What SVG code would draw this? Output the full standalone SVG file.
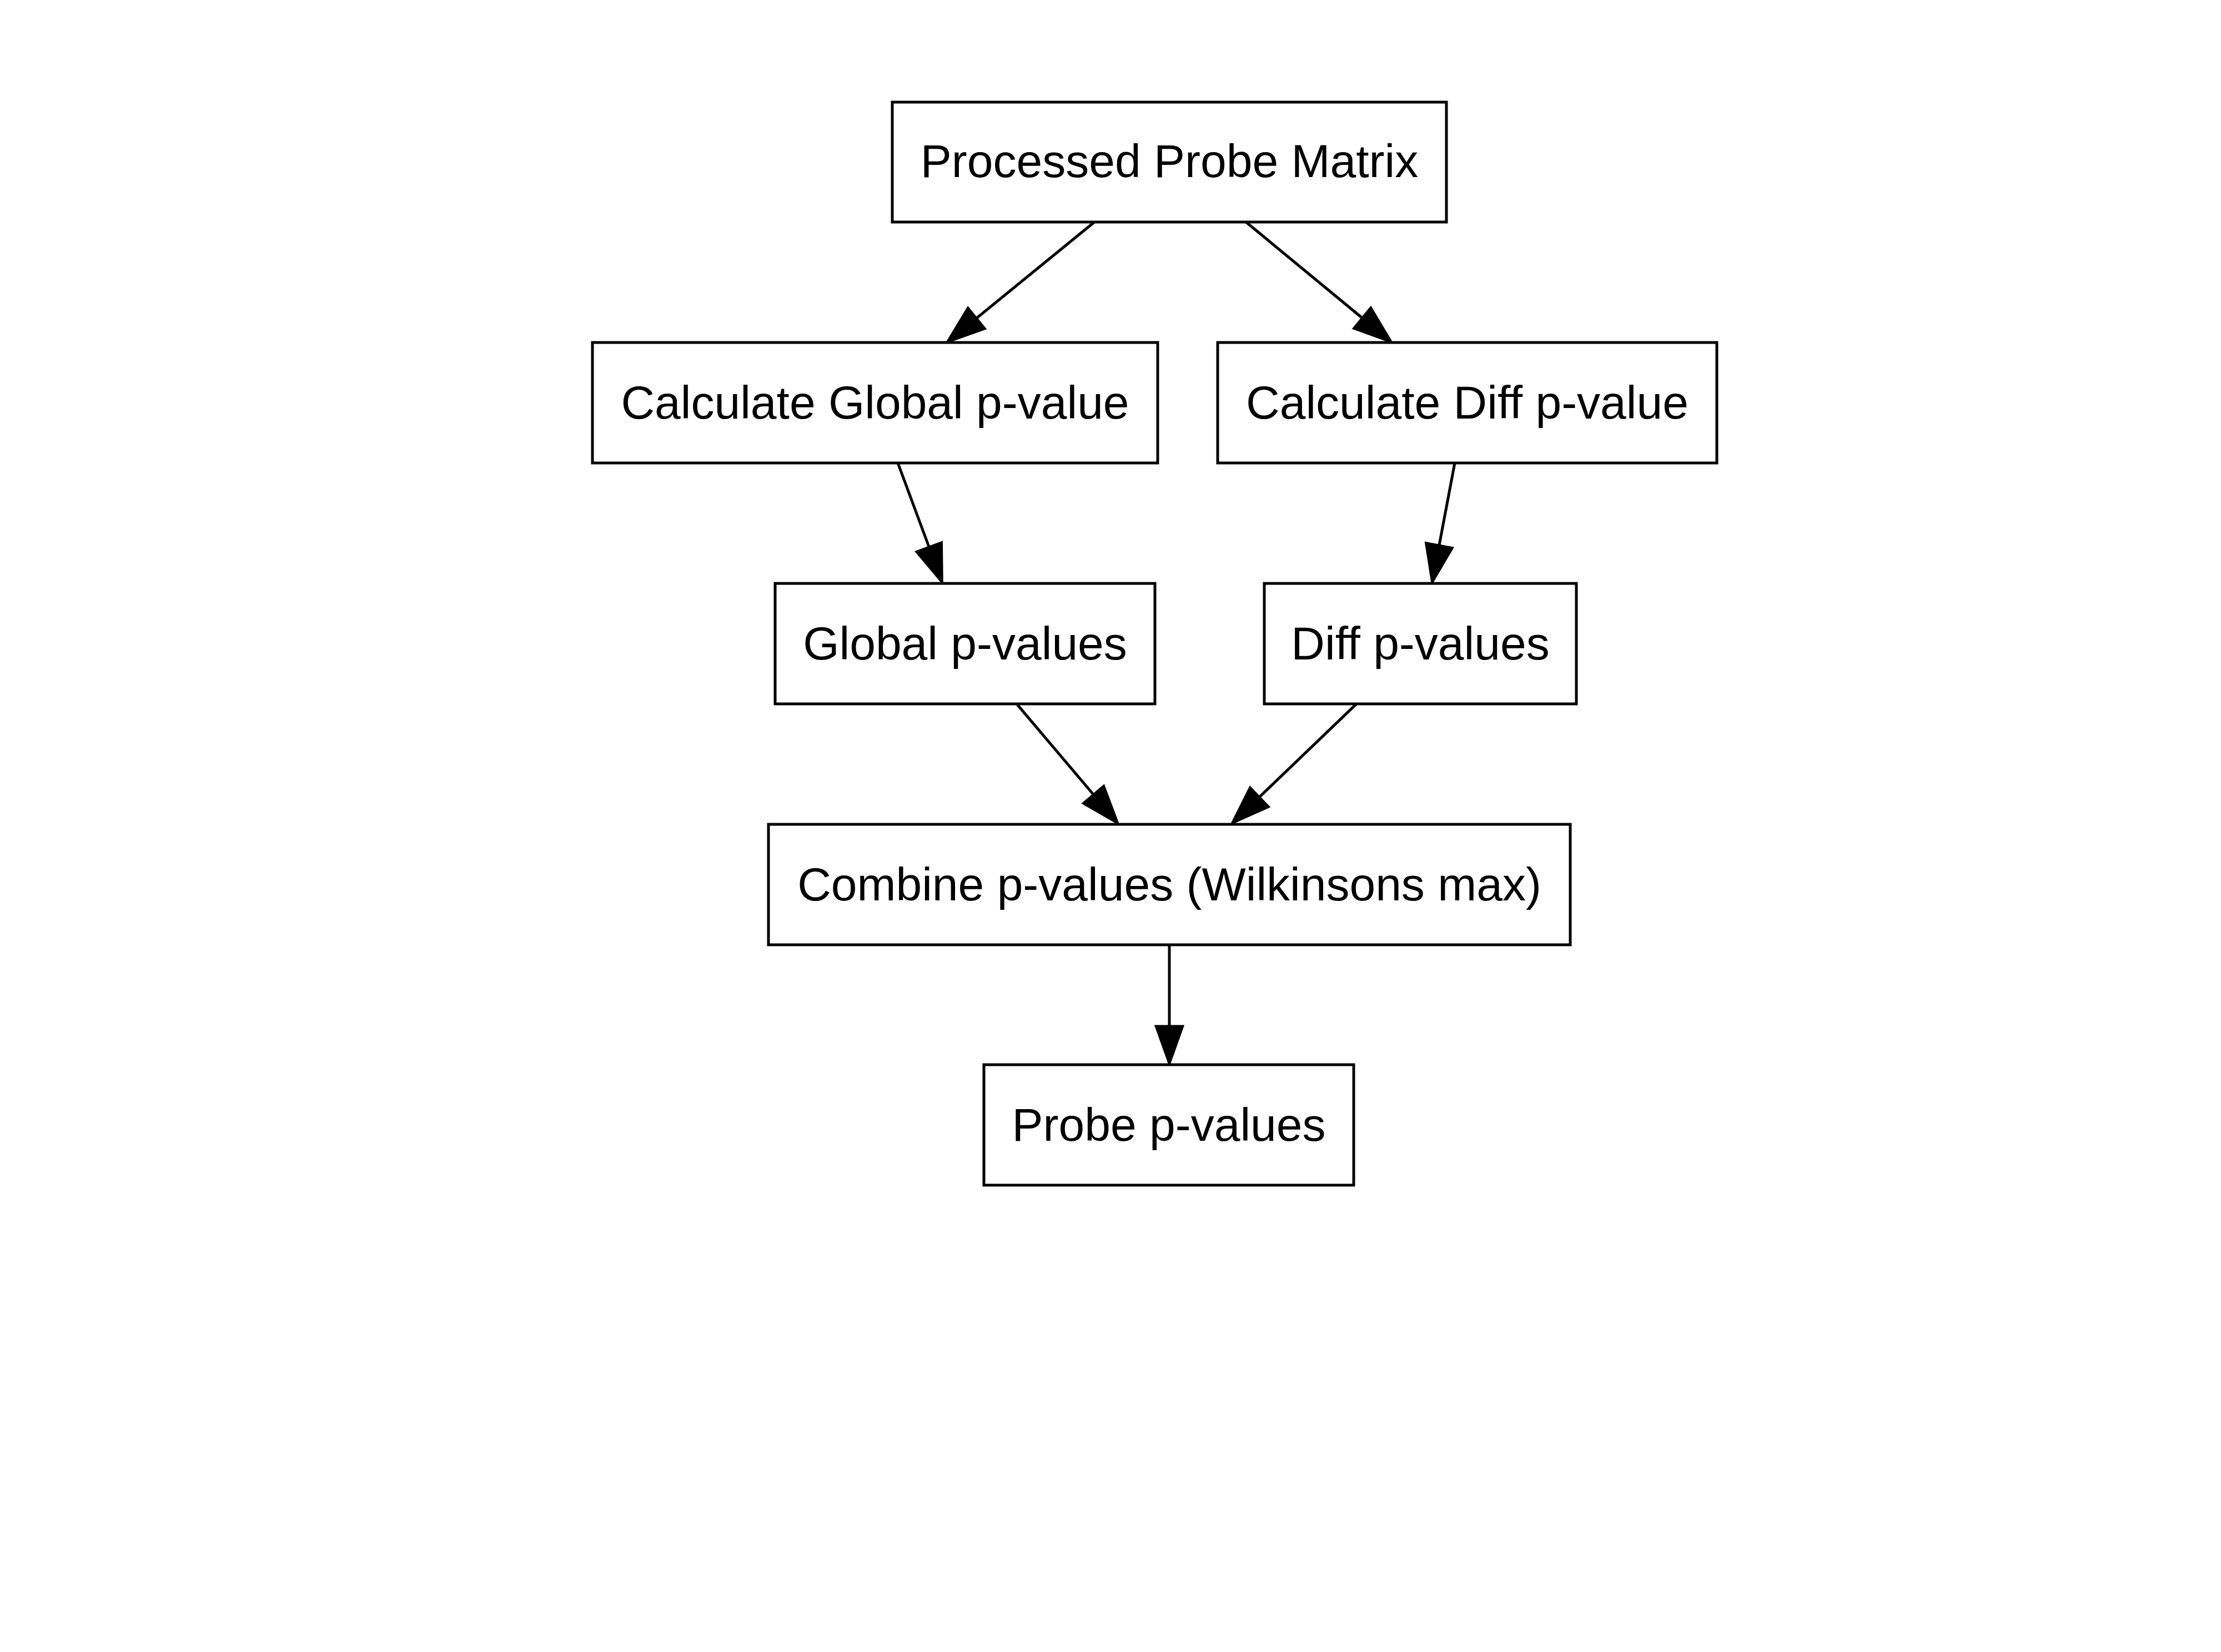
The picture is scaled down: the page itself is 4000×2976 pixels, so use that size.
<svg xmlns="http://www.w3.org/2000/svg" width="4000" height="2976" viewBox="0 0 4000 2976">
<style>
.box{fill:#fff;stroke:#000;stroke-width:5}
.lbl{font-family:"Liberation Sans",Arial,sans-serif;font-size:84px;fill:#000;text-anchor:middle}
.edge{stroke:#000;stroke-width:5;fill:none}
</style>
<defs>
<marker id="ah" markerUnits="userSpaceOnUse" viewBox="0 0 70 50" refX="0" refY="25" markerWidth="70" markerHeight="50" orient="auto" overflow="visible">
<path d="M0,0 L70,25 L0,50 z" fill="#000" stroke="#000" stroke-width="3"/>
</marker>
</defs>
<rect width="4000" height="2976" fill="#fff"/>
<g id="connectors">
<line class="edge" x1="1971" y1="400" x2="1759" y2="573" marker-end="url(#ah)"/>
<line class="edge" x1="2244" y1="400" x2="2453" y2="572.5" marker-end="url(#ah)"/>
<line class="edge" x1="1617" y1="834" x2="1673" y2="985" marker-end="url(#ah)"/>
<line class="edge" x1="2620" y1="834" x2="2592" y2="982" marker-end="url(#ah)"/>
<line class="edge" x1="1831" y1="1268" x2="1969" y2="1431" marker-end="url(#ah)"/>
<line class="edge" x1="2443" y1="1268" x2="2268.5" y2="1435.5" marker-end="url(#ah)"/>
<line class="edge" x1="2106" y1="1702" x2="2106" y2="1848" marker-end="url(#ah)"/>
</g>
<g id="n1"><rect class="box" x="1607" y="184" width="998" height="216"/><text class="lbl" x="2106" y="319">Processed Probe Matrix</text></g>
<g id="n2"><rect class="box" x="1067" y="617" width="1018" height="217"/><text class="lbl" x="1576" y="754">Calculate Global p-value</text></g>
<g id="n3"><rect class="box" x="2193" y="617" width="899" height="217"/><text class="lbl" x="2642.5" y="754">Calculate Diff p-value</text></g>
<g id="n4"><rect class="box" x="1396" y="1051" width="684" height="217"/><text class="lbl" x="1738" y="1188">Global p-values</text></g>
<g id="n5"><rect class="box" x="2277" y="1051" width="562" height="217"/><text class="lbl" x="2558" y="1188">Diff p-values</text></g>
<g id="n6"><rect class="box" x="1384" y="1485" width="1444" height="217"/><text class="lbl" x="2106" y="1622">Combine p-values (Wilkinsons max)</text></g>
<g id="n7"><rect class="box" x="1772" y="1918" width="666" height="217"/><text class="lbl" x="2105" y="2055">Probe p-values</text></g>
</svg>
